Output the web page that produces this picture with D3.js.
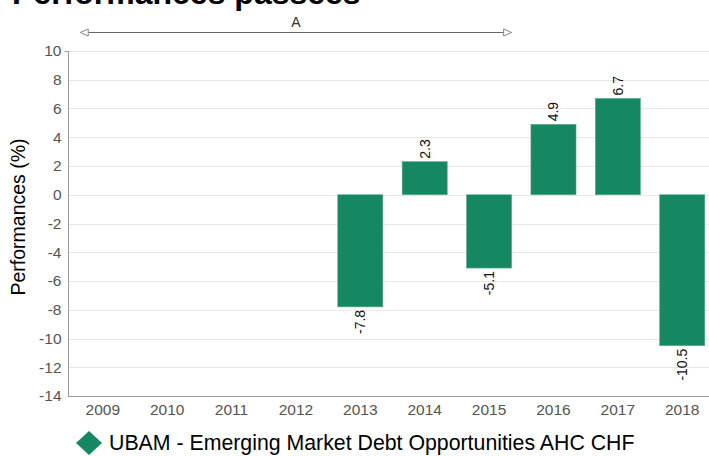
<!DOCTYPE html>
<html>
<head>
<meta charset="utf-8">
<script src="https://cdn.jsdelivr.net/npm/d3@7"></script>
<style>
	body { margin: 0; background: #fff; }
	svg { display: block; font-family: 'Liberation Sans', Arial, sans-serif; }
</style>
</head>
<body>
<div id="vis"></div>
<script>
// DATA
let years = ['2009', '2010', '2011', '2012', '2013', '2014', '2015', '2016', '2017', '2018'];
let perf = [null, null, null, null, -7.8, 2.3, -5.1, 4.9, 6.7, -10.5];
let yTicks = [10, 8, 6, 4, 2, 0, -2, -4, -6, -8, -10, -12, -14];
let seriesName = 'UBAM - Emerging Market Debt Opportunities AHC CHF';
let bandLabel = 'A';
let bandYears = ['2009', '2015'];

// PARAMETERS
let width = 709,
	height = 456,
	barColor = '#168763',
	plot = { left: 68, top: 51, bottom: 396 };

// SCALES
let x = d3
		.scaleBand()
		.domain(years)
		.range([plot.left, 717])
		.paddingInner(0.3)
		.paddingOuter(0.19),
	y = d3
		.scaleLinear()
		.domain([-14, 10])
		.range([plot.bottom, plot.top]);

let svg = d3
	.select('#vis')
	.append('svg')
	.attr('width', width)
	.attr('height', height);

// TITLE (cut at the top, as in the source)
svg
	.append('text')
	.attr('x', 12)
	.attr('y', 4)
	.attr('font-size', 32)
	.attr('font-weight', 'bold')
	.attr('fill', '#000')
	.text('Performances passées');

// GRID
svg
	.append('g')
	.selectAll('line')
	.data(yTicks)
	.enter()
	.append('line')
	.attr('x1', plot.left)
	.attr('x2', width)
	.attr('y1', d => Math.round(y(d)) + 0.5)
	.attr('y2', d => Math.round(y(d)) + 0.5)
	.attr('stroke', '#e8e8e8');

// AXES
let yAxis = svg
	.append('g')
	.attr('transform', `translate(${plot.left + 0.5}, 0)`)
	.call(d3.axisLeft(y).tickValues(yTicks).tickFormat(d => String(d)).tickSize(4).tickPadding(3));
yAxis.select('.domain').attr('stroke', '#999').attr('d', `M-4,${plot.top + 0.5}H0V${plot.bottom}`);
yAxis.selectAll('.tick line').remove();
yAxis.selectAll('text').attr('font-size', 15.5).attr('fill', '#555').attr('font-family', null);

let xAxis = svg
	.append('g')
	.attr('transform', `translate(0, ${plot.bottom + 0.5})`)
	.call(d3.axisBottom(x).tickSize(0).tickPadding(7));
xAxis.select('.domain').attr('stroke', '#999').attr('d', `M${plot.left},0H${width}`);
xAxis.selectAll('text').attr('font-size', 15.5).attr('fill', '#555').attr('font-family', null);

// Y TITLE
svg
	.append('text')
	.attr('transform', `translate(25, 217) rotate(-90)`)
	.attr('text-anchor', 'middle')
	.attr('font-size', 19.5)
	.attr('fill', '#000')
	.text('Performances (%)');

// BARS
let data = years.map((yr, i) => ({ year: yr, value: perf[i] })).filter(d => d.value != null);

svg
	.append('g')
	.selectAll('rect')
	.data(data)
	.enter()
	.append('rect')
	.attr('x', d => x(d.year))
	.attr('width', x.bandwidth())
	.attr('y', d => y(Math.max(0, d.value)))
	.attr('height', d => Math.abs(y(d.value) - y(0)))
	.attr('fill', barColor)
	.attr('stroke', '#5aa88c')
	.attr('stroke-width', 0.6);

// VALUE LABELS
svg
	.append('g')
	.selectAll('text')
	.data(data)
	.enter()
	.append('text')
	.attr('transform', d => {
		let cx = x(d.year) + x.bandwidth() / 2,
			cy = d.value >= 0 ? y(d.value) - 3 : y(d.value) + 3;
		return `translate(${cx}, ${cy}) rotate(-90)`;
	})
	.attr('dy', '0.35em')
	.attr('text-anchor', d => (d.value >= 0 ? 'start' : 'end'))
	.attr('font-size', 14)
	.attr('fill', '#111')
	.text(d => d.value.toFixed(1));

// BAND ANNOTATION
let bx0 = x(bandYears[0]),
	bx1 = x(bandYears[1]) + x.bandwidth(),
	by = 32.5;
let ann = svg.append('g');
ann
	.append('line')
	.attr('x1', bx0 + 8)
	.attr('x2', bx1 - 8)
	.attr('y1', by)
	.attr('y2', by)
	.attr('stroke', '#666')
	.attr('stroke-width', 1.2);
ann
	.append('path')
	.attr('d', `M${bx0},${by}L${bx0 + 8},${by - 3.5}L${bx0 + 8},${by + 3.5}Z`)
	.attr('fill', '#fff')
	.attr('stroke', '#888');
ann
	.append('path')
	.attr('d', `M${bx1},${by}L${bx1 - 8},${by - 3.5}L${bx1 - 8},${by + 3.5}Z`)
	.attr('fill', '#fff')
	.attr('stroke', '#888');
ann
	.append('text')
	.attr('x', (bx0 + bx1) / 2)
	.attr('y', 27)
	.attr('text-anchor', 'middle')
	.attr('font-size', 14)
	.attr('fill', '#333')
	.text(bandLabel);

// LEGEND
let legend = svg.append('g').attr('transform', 'translate(89, 443)');
legend
	.append('path')
	.attr('d', 'M0,-12L13,0L0,12L-13,0Z')
	.attr('fill', barColor);
legend
	.append('text')
	.attr('x', 20)
	.attr('y', 7)
	.attr('font-size', 21.3)
	.attr('fill', '#000')
	.text(seriesName);
</script>
</body>
</html>
